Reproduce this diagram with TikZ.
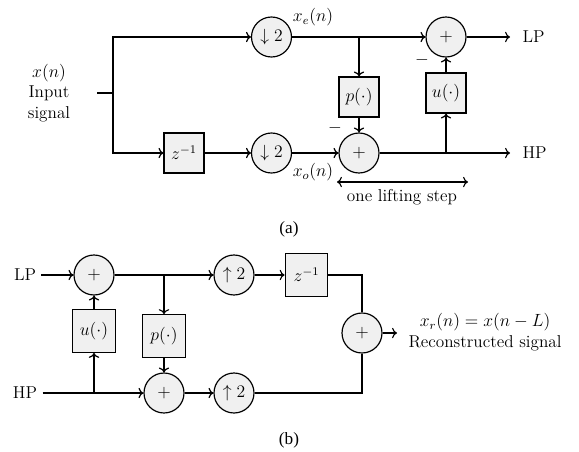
\documentclass[tikz,border=0pt]{standalone}
\usepackage{fontspec}
\newfontfamily\capfont{Liberation Serif}
\usetikzlibrary{arrows.meta}
\colorlet{blockfill}{gray!12}

\begin{document}
\begin{tikzpicture}[x=0.68pt, y=-0.68pt, thick, >=To,
        font=\fontsize{11.7}{14}\selectfont,
        opnode/.style={draw, circle, fill=blockfill, minimum size=27.2pt, inner sep=0pt},
        blocknode/.style={draw, rectangle, fill=blockfill, minimum size=27.2pt, inner sep=0pt},
        txt/.style={align=center, inner sep=0pt}]
        \useasboundingbox (0,0) rectangle (579,451);
        % ~~~~~~~~~~~~~~~~~ (a) analysis
        \node[txt] (xin) at (49,93) {$x(n)$\\Input\\signal};
        \coordinate (inA) at (97,93);
        \coordinate (split) at (113,93);
        \node[opnode] (downE) at (271.5,37) {$\downarrow 2$};
        \node[opnode] (downO) at (271.5,153) {$\downarrow 2$};
        \node[blocknode] (delayA) at (184,153) {$z^{-1}$};
        \node[blocknode] (predA) at (359,97) {$p(\cdot)$};
        \node[blocknode] (updA) at (446,93) {$u(\cdot)$};
        \node[opnode] (sumE) at (446,37) {$+$};
        \node[opnode] (sumO) at (359,153) {$+$};
        \coordinate (brE) at (359,37);
        \coordinate (brO) at (446,153);
        \coordinate (lpOut) at (510,37);
        \coordinate (hpOut) at (510,153);
        \draw (inA) -- (split);
        \draw[->] (split) |- (downE);
        \draw[->] (split) |- (delayA);
        \draw[->] (delayA) -- (downO);
        \draw[->] (downE) -- (sumE);
        \draw[->] (brE) -- (predA);
        \draw[->] (predA) -- (sumO);
        \draw[->] (downO) -- (sumO);
        \draw[->] (sumO) -- (hpOut);
        \draw[->] (brO) -- (updA);
        \draw[->] (updA) -- (sumE);
        \draw[->] (sumE) -- (lpOut);
        \node[anchor=west] (lpA) at (517,37) {LP};
        \node[anchor=west] (hpA) at (517,153) {HP};
        \node (xe) at (313,17) {$x_e(n)$};
        \node (xo) at (313,172) {$x_o(n)$};
        \node (minO) at (335,128) {$-$};
        \node (minE) at (422,60) {$-$};
        \coordinate (stepL) at (337,182);
        \coordinate (stepR) at (468,182);
        \draw[<->] (stepL) -- (stepR);
        \node (steplbl) at (402,197) {one lifting step};
        \node[font=\capfont\fontsize{11.7}{14}\selectfont] (capA) at (289,229) {(a)};
        % ~~~~~~~~~~~~~~~~~ (b) synthesis
        \node (lpB) at (25,275) {LP};
        \node (hpB) at (25,393) {HP};
        \node[opnode] (sumL) at (94,275) {$+$};
        \node[opnode] (sumH) at (164,393) {$+$};
        \node[blocknode, minimum size=29pt] (updB) at (94,331) {$u(\cdot)$};
        \node[blocknode, minimum size=29pt] (predB) at (164,336) {$p(\cdot)$};
        \node[opnode] (upE) at (234,275) {$\uparrow 2$};
        \node[opnode] (upO) at (234,393) {$\uparrow 2$};
        \node[blocknode, minimum size=29pt] (delayB) at (306.5,275) {$z^{-1}$};
        \node[opnode] (sumOut) at (362,333) {$+$};
        \coordinate (brH) at (94,393);
        \coordinate (brL) at (164,275);
        \coordinate (outB) at (397,333);
        \draw[->] (lpB) -- (sumL);
        \draw[->] (hpB) -- (sumH);
        \draw[->] (brH) -- (updB);
        \draw[->] (updB) -- (sumL);
        \draw[->] (sumL) -- (upE);
        \draw[->] (brL) -- (predB);
        \draw[->] (predB) -- (sumH);
        \draw[->] (sumH) -- (upO);
        \draw[->] (upE) -- (delayB);
        \draw (delayB) -| (sumOut);
        \draw (upO) -| (sumOut);
        \draw[->] (sumOut) -- (outB);
        \node[txt] (xr) at (485,332) {$x_r(n) = x(n-L)$\\Reconstructed signal};
        \node[font=\capfont\fontsize{11.7}{14}\selectfont] (capB) at (289,440) {(b)};
    \end{tikzpicture}
\end{document}
